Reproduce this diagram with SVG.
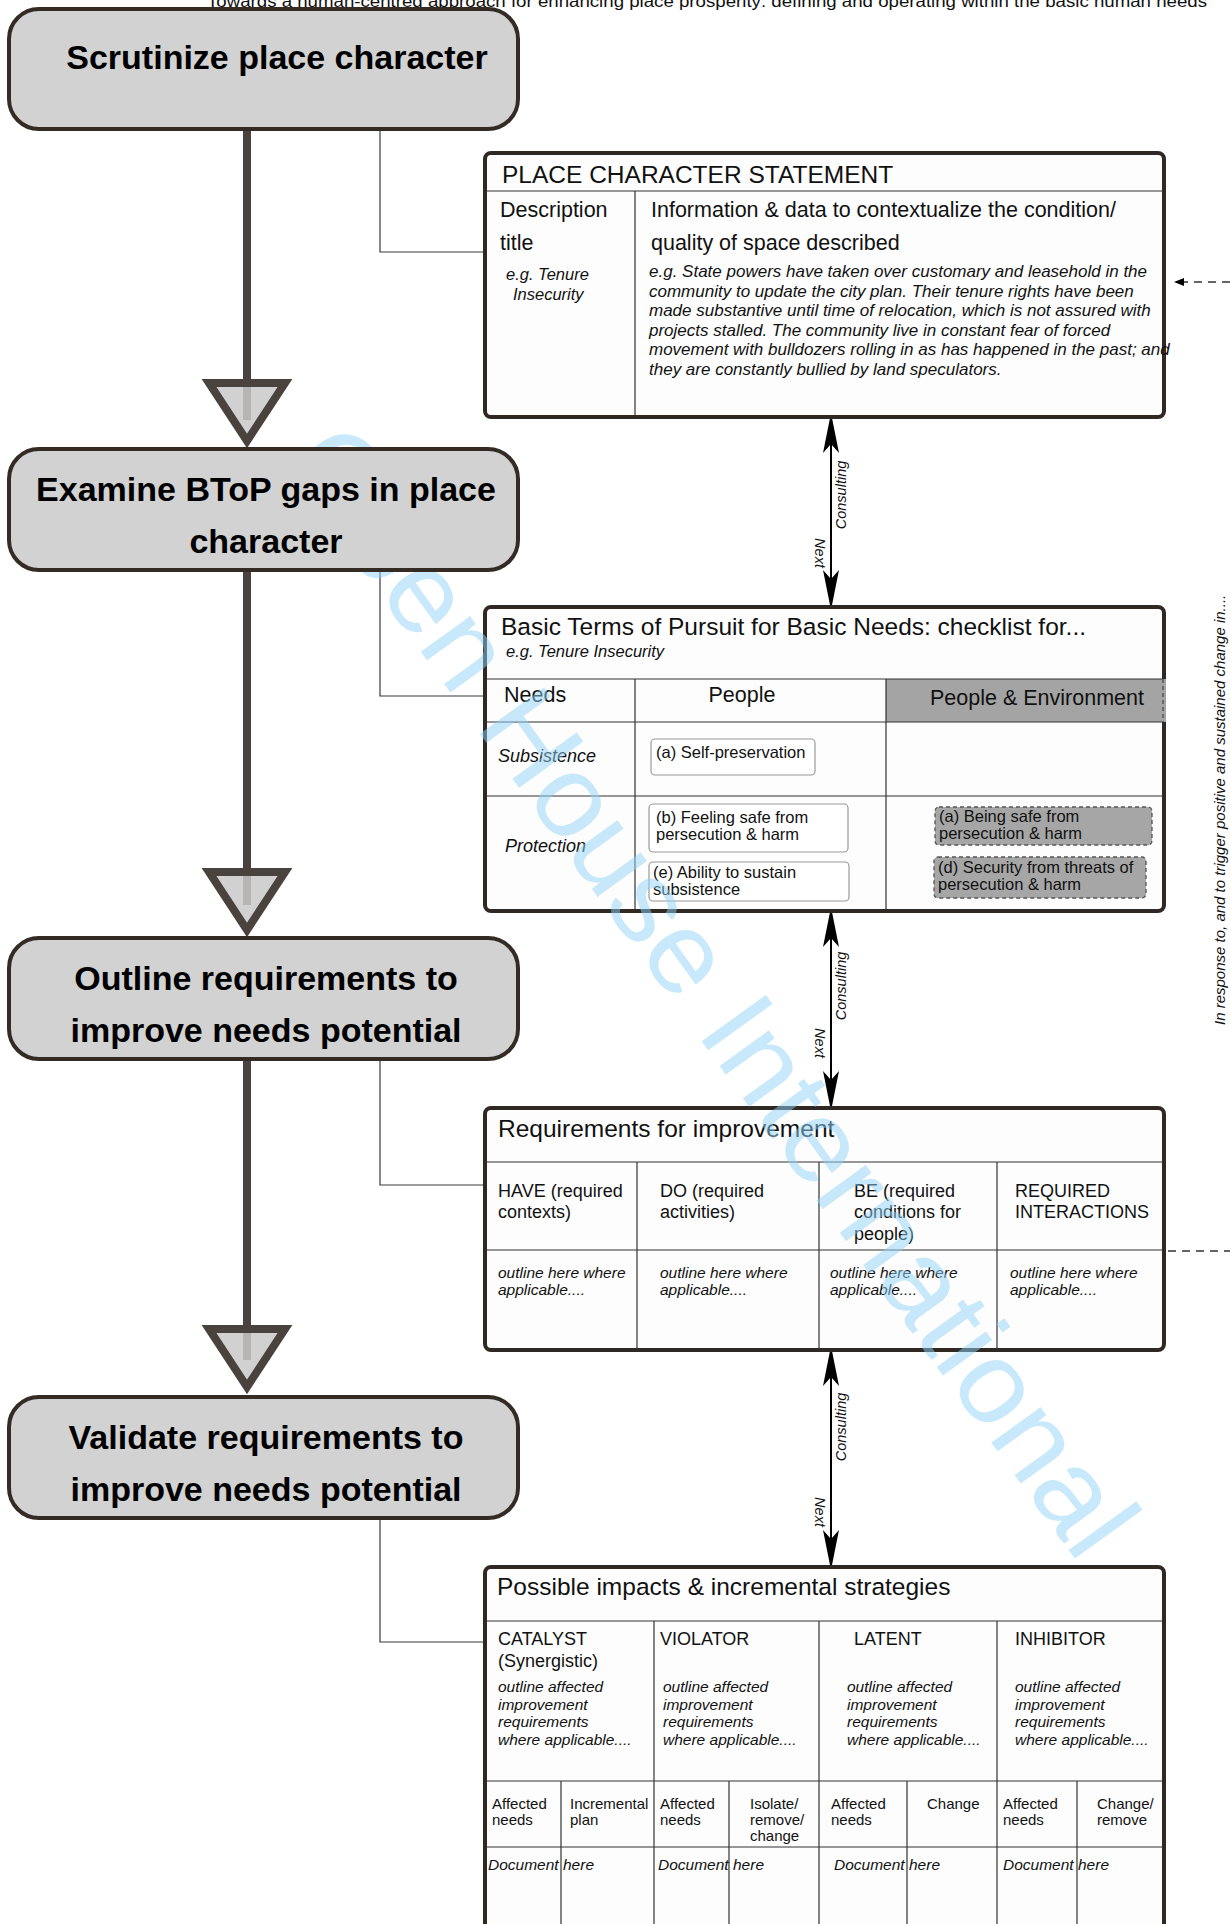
<svg xmlns="http://www.w3.org/2000/svg" width="1230" height="1924" viewBox="0 0 1230 1924">
<defs>
<style>
text { font-family: "Liberation Sans", Arial, Helvetica, sans-serif; fill: #111; }
.it { font-style: italic; }
.proc { fill: #d2d2d2; stroke: #342b25; stroke-width: 4; }
.proc-t { font-size: 34px; font-weight: bold; text-anchor: middle; fill: #000; }
.flow { stroke: #4a433d; stroke-width: 8; fill: none; }
.tri { fill: #c9c9c9; fill-opacity: 0.85; stroke: #4a433d; stroke-width: 8; stroke-linejoin: miter; }
.elbow { fill: none; stroke: #3a3a3a; stroke-width: 1.2; }
.box { fill: #fdfdfd; stroke: #2f2823; stroke-width: 4; }
.grid { stroke: #333; stroke-width: 1.2; fill: none; }
.ttl { font-size: 24.5px; }
.h21 { font-size: 21.5px; }
.h18 { font-size: 18px; }
.s17 { font-size: 17px; }
.s16 { font-size: 16.5px; }
.s155 { font-size: 15.5px; }
.s15 { font-size: 15px; }
.lbl { font-size: 14.5px; font-style: italic; text-anchor: middle; }
.chip { fill: #fff; stroke: #9a9a9a; stroke-width: 1.2; }
.dchip { fill: #a6a6a6; stroke: #555; stroke-width: 1.3; stroke-dasharray: 4 3; }
.arr { stroke: #000; stroke-width: 2; fill: none; }
.dash { stroke: #333; stroke-width: 1.3; stroke-dasharray: 8 6; fill: none; }
</style>
<marker id="head" viewBox="0 -10 40 20" markerWidth="40" markerHeight="20" refX="38" refY="0" markerUnits="userSpaceOnUse" orient="auto-start-reverse">
<path d="M0,-8 L40,0 L0,8 L9,0 Z" fill="#000"/>
</marker>
<marker id="small" viewBox="0 -5 10 10" markerWidth="10" markerHeight="10" refX="9" refY="0" markerUnits="userSpaceOnUse" orient="auto">
<path d="M0,-4 L10,0 L0,4 Z" fill="#000"/>
</marker>
</defs>
<rect width="1230" height="1924" fill="#fff"/>

<text x="207" y="7" font-size="16" textLength="1000" lengthAdjust="spacingAndGlyphs">Towards a human-centred approach for enhancing place prosperity: defining and operating within the basic human needs</text>

<g id="connectors">
<line class="flow" x1="247" y1="129" x2="247" y2="420"/>
<line class="flow" x1="247" y1="570" x2="247" y2="905"/>
<line class="flow" x1="247" y1="1059" x2="247" y2="1360"/>
<path class="elbow" d="M380,129 V252 H485"/>
<path class="elbow" d="M380,570 V696 H485"/>
<path class="elbow" d="M380,1059 V1185 H485"/>
<path class="elbow" d="M380,1518 V1642 H485"/>
<line class="arr" x1="831" y1="415" x2="831" y2="608" marker-start="url(#head)" marker-end="url(#head)"/>
<line class="arr" x1="831" y1="909" x2="831" y2="1109" marker-start="url(#head)" marker-end="url(#head)"/>
<line class="arr" x1="831" y1="1348" x2="831" y2="1568" marker-start="url(#head)" marker-end="url(#head)"/>
<text class="lbl" transform="translate(846,495) rotate(-90)">Consulting</text>
<text class="lbl" transform="translate(815,553) rotate(90)">Next</text>
<text class="lbl" transform="translate(846,986) rotate(-90)">Consulting</text>
<text class="lbl" transform="translate(815,1043) rotate(90)">Next</text>
<text class="lbl" transform="translate(846,1427) rotate(-90)">Consulting</text>
<text class="lbl" transform="translate(815,1512) rotate(90)">Next</text>
<line class="dash" x1="1230" y1="282" x2="1175" y2="282" marker-end="url(#small)"/>
<line class="dash" x1="1168" y1="1251" x2="1230" y2="1251"/>
<text class="it" font-size="15" transform="translate(1225,1025) rotate(-90)">In response to, and to trigger positive and sustained change in....</text>
</g>

<g id="place-character-statement">
<rect class="box" x="485" y="153" width="679" height="264" rx="6"/>
<line class="grid" x1="487" y1="191" x2="1162" y2="191"/>
<line class="grid" x1="635" y1="191" x2="635" y2="415"/>
<text class="ttl" x="502" y="183">PLACE CHARACTER STATEMENT</text>
<text class="h21" x="500" y="217">Description</text>
<text class="h21" x="500" y="250">title</text>
<text class="it s16" x="506" y="280">e.g. Tenure</text>
<text class="it s16" x="513" y="300">Insecurity</text>
<text class="h21" x="651" y="217">Information &amp; data to contextualize the condition/</text>
<text class="h21" x="651" y="250">quality of space described</text>
<g class="it s17">
<text x="649" y="277">e.g. State powers have taken over customary and leasehold in the</text>
<text x="649" y="296.6">community to update the city plan. Their tenure rights have been</text>
<text x="649" y="316.2">made substantive until time of relocation, which is not assured with</text>
<text x="649" y="335.8">projects stalled. The community live in constant fear of forced</text>
<text x="649" y="355.4">movement with bulldozers rolling in as has happened in the past; and</text>
<text x="649" y="375">they are constantly bullied by land speculators.</text>
</g>
</g>

<g id="btop-checklist">
<rect class="box" x="485" y="607" width="679" height="304" rx="6"/>
<rect x="886" y="679" width="280" height="43" fill="#a4a4a4"/>
<line x1="1163" y1="679" x2="1163" y2="722" stroke="#555" stroke-width="1.5" stroke-dasharray="4 3"/>
<line class="grid" x1="487" y1="679" x2="1162" y2="679"/>
<line class="grid" x1="487" y1="722" x2="1162" y2="722"/>
<line class="grid" x1="487" y1="796" x2="1162" y2="796"/>
<line class="grid" x1="635" y1="679" x2="635" y2="909"/>
<line class="grid" x1="886" y1="679" x2="886" y2="909"/>
<text class="ttl" x="501" y="635">Basic Terms of Pursuit for Basic Needs: checklist for...</text>
<text class="it s16" x="506" y="657">e.g. Tenure Insecurity</text>
<text class="h21" x="504" y="702">Needs</text>
<text class="h21" x="742" y="702" text-anchor="middle">People</text>
<text class="h21" x="930" y="705">People &amp; Environment</text>
<text class="it h18" x="498" y="762">Subsistence</text>
<text class="it h18" x="505" y="852">Protection</text>
<rect class="chip" x="651" y="739" width="164" height="36" rx="4"/>
<text class="s16" x="656" y="758">(a) Self-preservation</text>
<rect class="chip" x="649" y="804" width="199" height="48" rx="4"/>
<text class="s16" x="656" y="823">(b) Feeling safe from</text>
<text class="s16" x="656" y="840">persecution &amp; harm</text>
<rect class="chip" x="649" y="862" width="200" height="39" rx="4"/>
<text class="s16" x="653" y="878">(e) Ability to sustain</text>
<text class="s16" x="653" y="895">subsistence</text>
<rect class="dchip" x="935" y="807" width="217" height="38" rx="4"/>
<text class="s16" x="939" y="822">(a) Being safe from</text>
<text class="s16" x="939" y="839">persecution &amp; harm</text>
<rect class="dchip" x="934" y="857" width="212" height="41" rx="4"/>
<text class="s16" x="938" y="873">(d) Security from threats of</text>
<text class="s16" x="938" y="890">persecution &amp; harm</text>
</g>

<g id="requirements">
<rect class="box" x="485" y="1108" width="679" height="242" rx="6"/>
<line class="grid" x1="487" y1="1162" x2="1162" y2="1162"/>
<line class="grid" x1="487" y1="1250" x2="1162" y2="1250"/>
<line class="grid" x1="637" y1="1162" x2="637" y2="1348"/>
<line class="grid" x1="819" y1="1162" x2="819" y2="1348"/>
<line class="grid" x1="997" y1="1162" x2="997" y2="1348"/>
<text class="ttl" x="498" y="1137">Requirements for improvement</text>
<g class="h18">
<text x="498" y="1197">HAVE (required</text>
<text x="498" y="1218">contexts)</text>
<text x="660" y="1197">DO (required</text>
<text x="660" y="1218">activities)</text>
<text x="854" y="1197">BE (required</text>
<text x="854" y="1218">conditions for</text>
<text x="854" y="1240">people)</text>
<text x="1015" y="1197">REQUIRED</text>
<text x="1015" y="1218">INTERACTIONS</text>
</g>
<g class="it s155">
<text x="498" y="1278">outline here where</text>
<text x="498" y="1295">applicable....</text>
<text x="660" y="1278">outline here where</text>
<text x="660" y="1295">applicable....</text>
<text x="830" y="1278">outline here where</text>
<text x="830" y="1295">applicable....</text>
<text x="1010" y="1278">outline here where</text>
<text x="1010" y="1295">applicable....</text>
</g>
</g>

<g id="impacts-strategies">
<rect class="box" x="485" y="1567" width="679" height="400" rx="6"/>
<line class="grid" x1="487" y1="1621" x2="1162" y2="1621"/>
<line class="grid" x1="487" y1="1781" x2="1162" y2="1781"/>
<line class="grid" x1="487" y1="1847" x2="1162" y2="1847"/>
<line class="grid" x1="654" y1="1621" x2="654" y2="1924"/>
<line class="grid" x1="819" y1="1621" x2="819" y2="1924"/>
<line class="grid" x1="997" y1="1621" x2="997" y2="1924"/>
<line class="grid" x1="561" y1="1781" x2="561" y2="1924"/>
<line class="grid" x1="729" y1="1781" x2="729" y2="1924"/>
<line class="grid" x1="907" y1="1781" x2="907" y2="1924"/>
<line class="grid" x1="1077" y1="1781" x2="1077" y2="1924"/>
<text class="ttl" x="497" y="1595">Possible impacts &amp; incremental strategies</text>
<g class="h18">
<text x="498" y="1645">CATALYST</text>
<text x="498" y="1667">(Synergistic)</text>
<text x="660" y="1645">VIOLATOR</text>
<text x="854" y="1645">LATENT</text>
<text x="1015" y="1645">INHIBITOR</text>
</g>
<g class="it s155">
<text x="498" y="1692">outline affected</text>
<text x="498" y="1709.5">improvement</text>
<text x="498" y="1727">requirements</text>
<text x="498" y="1745">where applicable....</text>
<text x="663" y="1692">outline affected</text>
<text x="663" y="1709.5">improvement</text>
<text x="663" y="1727">requirements</text>
<text x="663" y="1745">where applicable....</text>
<text x="847" y="1692">outline affected</text>
<text x="847" y="1709.5">improvement</text>
<text x="847" y="1727">requirements</text>
<text x="847" y="1745">where applicable....</text>
<text x="1015" y="1692">outline affected</text>
<text x="1015" y="1709.5">improvement</text>
<text x="1015" y="1727">requirements</text>
<text x="1015" y="1745">where applicable....</text>
</g>
<g class="s15">
<text x="492" y="1809">Affected</text>
<text x="492" y="1825">needs</text>
<text x="570" y="1809">Incremental</text>
<text x="570" y="1825">plan</text>
<text x="660" y="1809">Affected</text>
<text x="660" y="1825">needs</text>
<text x="750" y="1809">Isolate/</text>
<text x="750" y="1825">remove/</text>
<text x="750" y="1841">change</text>
<text x="831" y="1809">Affected</text>
<text x="831" y="1825">needs</text>
<text x="927" y="1809">Change</text>
<text x="1003" y="1809">Affected</text>
<text x="1003" y="1825">needs</text>
<text x="1097" y="1809">Change/</text>
<text x="1097" y="1825">remove</text>
</g>
<g class="it s155">
<text x="488" y="1870">Document</text>
<text x="563" y="1870">here</text>
<text x="658" y="1870">Document</text>
<text x="733" y="1870">here</text>
<text x="834" y="1870">Document</text>
<text x="909" y="1870">here</text>
<text x="1003" y="1870">Document</text>
<text x="1078" y="1870">here</text>
</g>
</g>

<text x="0" y="0" font-size="115" textLength="1360" lengthAdjust="spacingAndGlyphs" style="fill:#8fd3f7" fill-opacity="0.5" transform="translate(284,462) rotate(54.2)">Open House International</text>

<g id="step-scrutinize">
<rect class="proc" x="9" y="9" width="509" height="120" rx="30"/>
<text class="proc-t" x="277" y="69">Scrutinize place character</text>
</g>
<g id="step-examine">
<polygon class="tri" points="209,383 285,383 247,441"/>
<rect class="proc" x="9" y="449" width="509" height="121" rx="30"/>
<text class="proc-t" x="266" y="501">Examine BToP gaps in place</text>
<text class="proc-t" x="266" y="553">character</text>
</g>
<g id="step-outline">
<polygon class="tri" points="209,872 285,872 247,930"/>
<rect class="proc" x="9" y="938" width="509" height="121" rx="30"/>
<text class="proc-t" x="266" y="990">Outline requirements to</text>
<text class="proc-t" x="266" y="1042">improve needs potential</text>
</g>
<g id="step-validate">
<polygon class="tri" points="209,1329 285,1329 247,1387"/>
<rect class="proc" x="9" y="1397" width="509" height="121" rx="30"/>
<text class="proc-t" x="266" y="1449">Validate requirements to</text>
<text class="proc-t" x="266" y="1501">improve needs potential</text>
</g>
</svg>
